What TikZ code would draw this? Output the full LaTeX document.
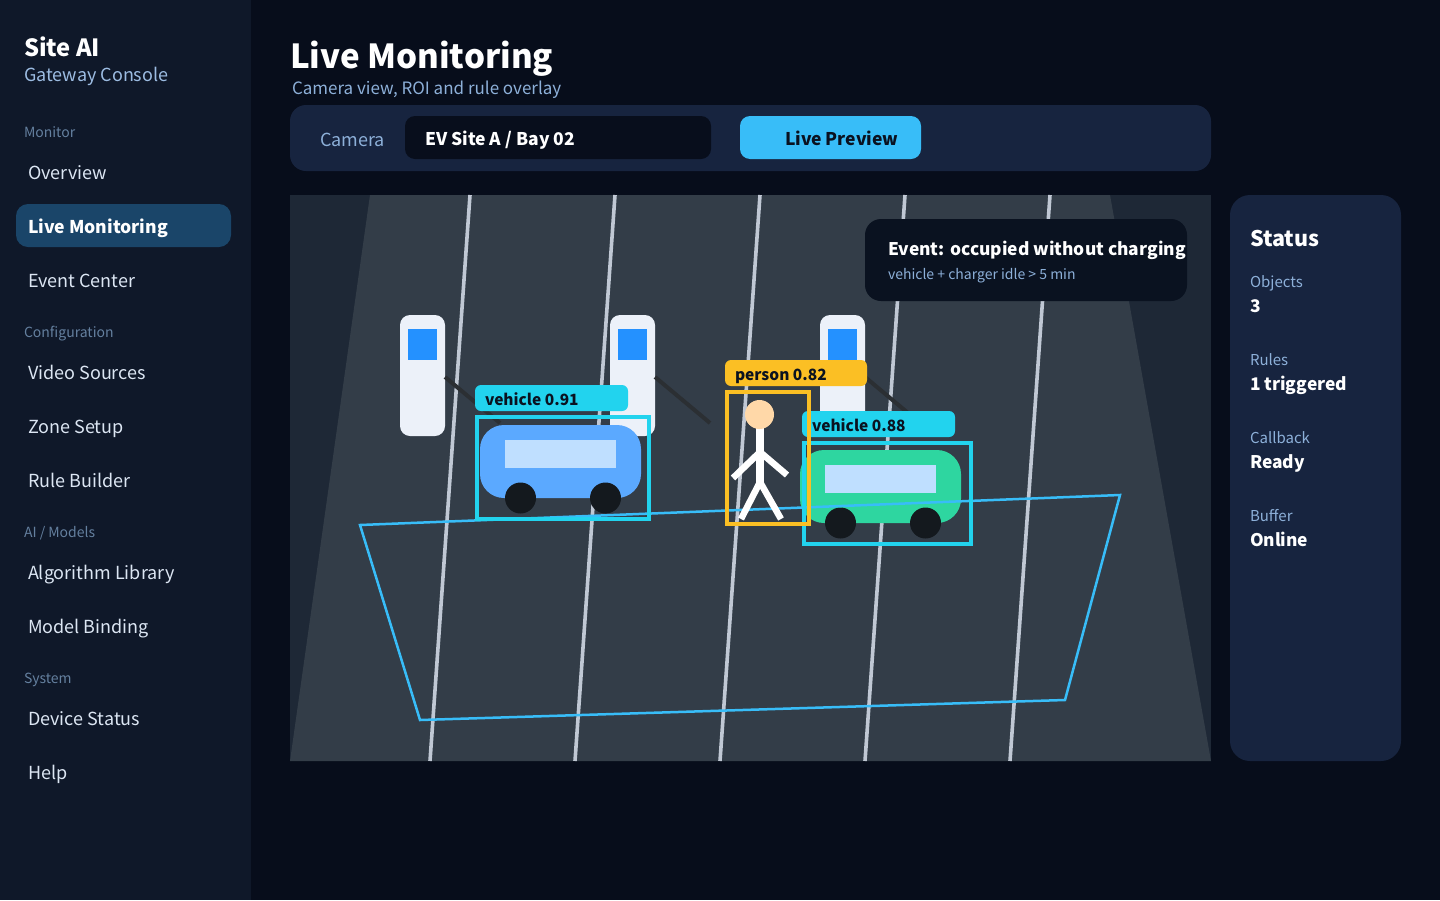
\documentclass[tikz,border=0pt]{standalone}
\usepackage{fontspec}
\setmainfont{Noto Sans CJK SC}
\definecolor{pagebg}{HTML}{070D1B}
\definecolor{sidebg}{HTML}{0F1829}
\definecolor{panelbg}{HTML}{17243F}
\definecolor{activebg}{HTML}{1A4569}
\definecolor{selectbg}{HTML}{080E1C}
\definecolor{accent}{HTML}{38BDF8}
\definecolor{scenebg}{HTML}{1E2836}
\definecolor{roadc}{HTML}{333D48}
\definecolor{lanec}{HTML}{C0C8D4}
\definecolor{chargerc}{HTML}{ECF1F9}
\definecolor{screenc}{HTML}{2491FF}
\definecolor{cablec}{HTML}{2B2F33}
\definecolor{boxcyan}{HTML}{22D3EE}
\definecolor{boxamber}{HTML}{FBBF24}
\definecolor{carblue}{HTML}{5BA9FF}
\definecolor{cargreen}{HTML}{2ED6A0}
\definecolor{glassc}{HTML}{BFDFFF}
\definecolor{wheelc}{HTML}{14191E}
\definecolor{skinc}{HTML}{FFD8A8}
\definecolor{eventbg}{HTML}{0A1220}
\definecolor{mutedc}{HTML}{9CBCE2}
\definecolor{sectc}{HTML}{64809F}
\definecolor{itemc}{HTML}{DCE6F3}
\definecolor{softc}{HTML}{8DB0D9}
\definecolor{inkc}{HTML}{0A1220}
\tikzset{
  txt/.style={anchor=base west,inner sep=0pt,outer sep=0pt,font=\fontsize{#1}{#1}\selectfont},
  txt/.default=18,
  strong/.style={anchor=base west,inner sep=0pt,outer sep=0pt,font=\fontsize{#1}{#1}\selectfont\bfseries},
  strong/.default=17.5,
  section/.style={txt=14,text=sectc},
  item/.style={txt=18,text=itemc},
  statkey/.style={txt=15,text=softc},
  statval/.style={strong=17.4,text=white},
  tag/.style={strong=15.5,text=inkc},
  lane/.style={draw=lanec,line width=3.6pt},
  cable/.style={draw=cablec,line width=4pt},
  bbox/.style={draw=#1,line width=4pt},
  limb/.style={draw=white,line width=#1},
}
\newcommand{\chargerpost}[1]{%
  \fill[chargerc,rounded corners=10pt] (#1,315) rectangle ++(45,121);
  \fill[screenc] (#1+8,329) rectangle ++(29,31);
}
\newcommand{\vehiclebody}[3]{%
  \fill[#3,rounded corners=24pt] (#1,#2) rectangle ++(161,73);
  \fill[glassc] (#1+25,#2+15) rectangle ++(111,28);
  \fill[wheelc] (#1+40.5,#2+73) circle (15.5);
  \fill[wheelc] (#1+125.5,#2+73) circle (15.5);
}
\begin{document}
\begin{tikzpicture}[x=1pt,y=-1pt]
\useasboundingbox (0,0) rectangle (1440,900);
\fill[pagebg] (0,0) rectangle (1440,900);
\fill[sidebg] (0,0) rectangle (251,900);
% sidebar
\node[strong=23.7,text=white] (brand) at (24,56) {Site AI};
\node[txt=18,text=mutedc] (brandsub) at (24,81) {Gateway Console};
\node[section] (secmon) at (24,137) {Monitor};
\node[item] (iover) at (28,179) {Overview};
\fill[activebg,rounded corners=12pt] (16,204) rectangle (231,247);
\node[strong=17.6,text=white] (ilive) at (28,233) {Live Monitoring};
\node[item] (ievent) at (28,287) {Event Center};
\node[section] (seccfg) at (24,337) {Configuration};
\node[item] (ivideo) at (28,379) {Video Sources};
\node[item] (izone) at (28,433) {Zone Setup};
\node[item] (irule) at (28,487) {Rule Builder};
\node[section] (secai) at (24,537) {AI / Models};
\node[item] (ialgo) at (28,579) {Algorithm Library};
\node[item] (imodel) at (28,633) {Model Binding};
\node[section] (secsys) at (24,683) {System};
\node[item] (idev) at (28,725) {Device Status};
\node[item] (ihelp) at (28,779) {Help};
% header
\node[strong=33.1,text=white] (title) at (290,68) {Live Monitoring};
\node[txt=17,text=softc] (subtitle) at (292,94) {Camera view, ROI and rule overlay};
\fill[panelbg,rounded corners=16pt] (290,105) rectangle (1211,171);
\node[txt=18,text=softc] (camlabel) at (320,146) {Camera};
\fill[selectbg,rounded corners=10pt] (405,116) rectangle (711,159);
\node[strong=17.5,text=white] (camvalue) at (425,145) {EV Site A / Bay 02};
\fill[accent,rounded corners=10pt] (740,116) rectangle (921,159);
\node[strong=17.5,text=inkc] (preview) at (785,145) {Live Preview};
% scene
\fill[scenebg] (290,195) rectangle (1211,761);
\fill[roadc] (370,195) -- (1110,195) -- (1211,761) -- (290,761) -- cycle;
\draw[lane] (470,195) -- (430,761);
\draw[lane] (615,195) -- (575,761);
\draw[lane] (760,195) -- (720,761);
\draw[lane] (905,195) -- (865,761);
\draw[lane] (1050,195) -- (1010,761);
\chargerpost{400}\chargerpost{610}\chargerpost{820}
\draw[cable] (445,377) -- (500,423);
\draw[cable] (655,377) -- (710,423);
\draw[cable] (865,377) -- (920,423);
\vehiclebody{480}{425}{carblue}
\vehiclebody{800}{450}{cargreen}
\draw[draw=accent,line width=2.5pt] (360,525) -- (1120,495) -- (1065,700) -- (420,720) -- cycle;
\draw[bbox=boxcyan] (477,417) rectangle (649,519);
\fill[boxcyan,rounded corners=6pt] (475,385) rectangle (628,411);
\node[tag] (tagone) at (485,405) {vehicle 0.91};
\draw[bbox=boxcyan] (804,443) rectangle (971,544);
\fill[boxcyan,rounded corners=6pt] (802,411) rectangle (955,437);
\node[tag] (tagtwo) at (812,431) {vehicle 0.88};
\draw[bbox=boxamber] (727,392) rectangle (809,524);
\fill[boxamber,rounded corners=6pt] (725,360) rectangle (867,386);
\node[tag] (tagthree) at (735,380) {person 0.82};
% person
\draw[limb=8pt] (760,428) -- (760,482);
\draw[limb=6.5pt] (733,478) -- (760,452) -- (787,475);
\draw[limb=6.5pt] (741,519) -- (760,482) -- (781,519);
\fill[skinc] (759.5,414.5) circle (14.5);
% event
\fill[eventbg,rounded corners=16pt] (865,219) rectangle (1187,301);
\node[strong=17.4,text=white] (evtitle) at (888,255) {Event: occupied without charging};
\node[txt=14,text=softc] (evsub) at (888,279) {vehicle + charger idle > 5 min};
% status
\fill[panelbg,rounded corners=20pt] (1230,195) rectangle (1401,761);
\node[strong=21.5,text=white] (sttitle) at (1250,246) {Status};
\node[statkey] (k1) at (1250,287.5) {Objects};
\node[statval] (v1) at (1250,312.5) {3};
\node[statkey] (k2) at (1250,365.5) {Rules};
\node[statval] (v2) at (1250,390.5) {1 triggered};
\node[statkey] (k3) at (1250,443.5) {Callback};
\node[statval] (v3) at (1250,468.5) {Ready};
\node[statkey] (k4) at (1250,521.5) {Buffer};
\node[statval] (v4) at (1250,546.5) {Online};
\end{tikzpicture}
\end{document}
